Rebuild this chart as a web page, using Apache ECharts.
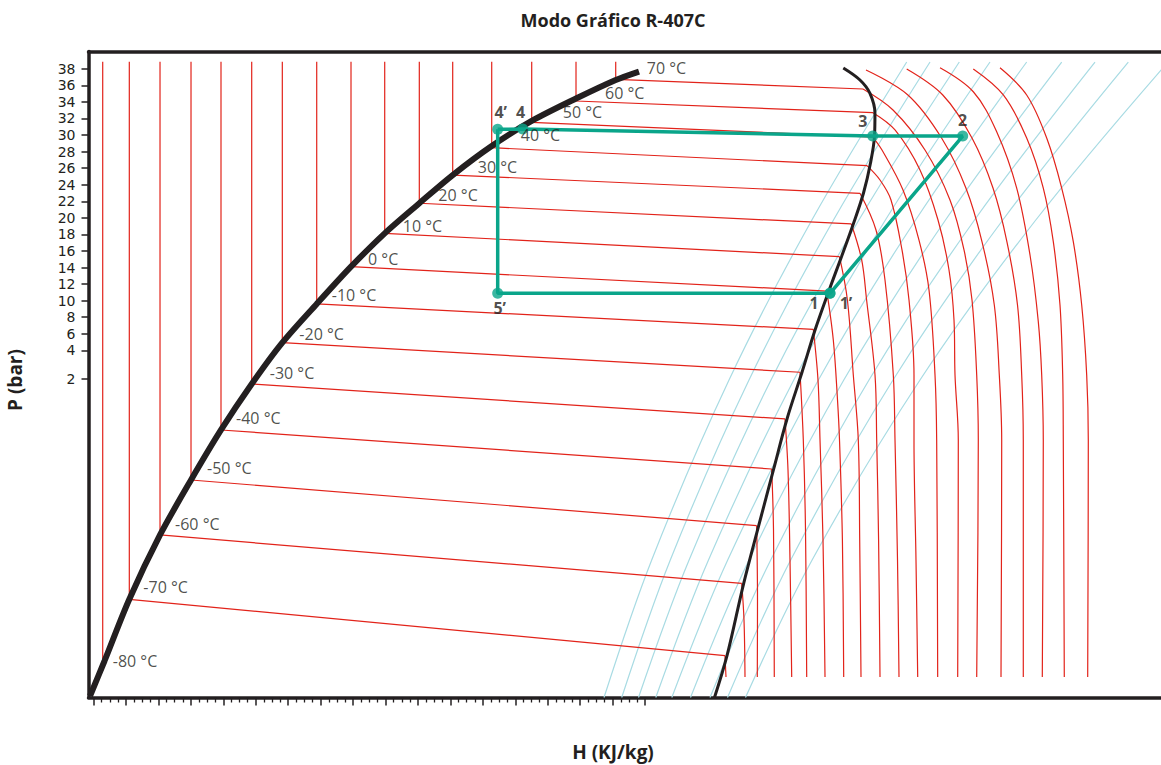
<!DOCTYPE html>
<html><head><meta charset="utf-8">
<script src="https://cdn.jsdelivr.net/npm/echarts@6/dist/echarts.min.js"></script>
<style>html,body{margin:0;padding:0;background:#fff}#c{width:1161px;height:765px}</style>
</head><body><div id="c"></div><script>
// ---------------- DATA ----------------
const titleText = 'Modo Gráfico R-407C';
const xName = 'H (KJ/kg)';
const yName = 'P (bar)';
const yTickLabels = [2,4,6,8,10,12,14,16,18,20,22,24,26,28,30,32,34,36,38];

// isotherms (°C): saturated liquid corner and saturated vapour end of each isotherm
const isoTemps = [-80,-70,-60,-50,-40,-30,-20,-10,0,10,20,30,40,50,60,70];
const liqH = [105.61,122.01,140.94,160.05,178.54,197.47,216.34,237.55,258.69,279.47,300.80,321.39,345.44,370.10,397.41,421.89];
const liqP = [-33.52,-26.07,-18.30,-11.66,-5.62,-0.07,4.92,9.60,14.10,18.13,21.76,25.17,28.47,31.54,34.11,36.73];
const vapH = [null,489.27,499.56,508.80,518.05,526.25,535.50,543.70,552.02,559.86,567.14,572.49,576.81,580.40,580.51,574.35];
const vapP = [null,-32.88,-24.14,-17.18,-10.33,-4.29,1.35,6.54,11.16,15.31,19.26,22.96,26.30,29.76,32.70,35.56];
const liqTopP = 38.86;

// saturation curves
const satLiqH = [97.78,106.72,122.01,140.94,160.05,178.54,197.47,216.34,237.55,258.69,279.47,300.80,321.39,345.44,370.10,397.41,421.89,436.25];
const satLiqP = [-37.75,-33.52,-26.07,-18.30,-11.66,-5.62,-0.07,4.92,9.60,14.10,18.13,21.76,25.17,28.68,31.70,34.41,36.65,37.67];
const satVapH = [562.20,572.47,578.64,581.72,581.44,578.97,574.66,568.37,561.09,553.26,544.94,536.74,527.49,519.29,510.04,500.80,490.50,482.79];
const satVapP = [38.10,36.65,35.04,32.63,29.88,26.62,23.00,19.26,15.31,11.16,6.54,1.35,-4.29,-10.33,-17.18,-24.14,-32.88,-37.93];

// isotherms in the superheated vapour region
const superTemps = [-70,-60,-50,-40,-30,-20,-10,0,10,20,30,40,50,60,70,80,90,100,110,120];
const superH = [
 [489.27,489.88],
 [499.56,500.98,501.60],
 [508.80,509.30,509.18],
 [518.05,519.17,519.66],
 [526.25,528.11,529.34,530.39],
 [535.50,537.54,538.90,539.64],
 [543.70,546.60,547.84,549.69,550.92],
 [552.02,556.04,558.63,559.86,561.65,562.45],
 [559.86,564.73,568.37,571.45,572.31,573.11],
 [567.14,573.54,576.57,581.75,582.79,583.96,584.83],
 [572.49,582.36,587.91,593.03,594.08,595.62,596.54],
 [576.81,584.83,591.61,598.39,602.71,605.79,605.79,607.02,608.08],
 [580.40,586.06,599.01,608.87,615.04,618.74,619.77,620.39],
 [580.51,594.08,609.49,620.59,627.37,630.45,631.07,633.10,632.73],
 [574.35,592.84,612.57,627.98,636.62,641.55,644.45,645.43,644.45],
 [576.20,602.03,622.80,637.78,647.77,655.30,658.38,659.86,659.43],
 [601.29,623.54,641.55,654.49,663.12,669.60,672.19,673.17,673.17],
 [621.82,642.35,656.77,669.10,677.31,682.42,684.52,685.50,684.89],
 [642.35,660.85,675.26,685.50,691.67,695.80,697.46,697.83,698.45],
 [658.81,675.26,687.60,696.85,704.00,709.18,712.26,713.25,712.88]
];
const superP = [
 [-32.88,-35.45],
 [-24.14,-28.57,-35.45],
 [-17.18,-26.15,-35.45],
 [-10.33,-17.70,-35.45],
 [-4.29,-10.45,-21.32,-35.45],
 [1.35,-6.83,-17.70,-35.45],
 [6.54,0.42,-6.83,-18.91,-35.45],
 [11.16,5.25,-1.99,-6.83,-18.91,-35.45],
 [15.31,10.08,1.02,-6.83,-18.91,-35.45],
 [19.26,14.91,10.08,1.02,-6.83,-18.91,-35.45],
 [22.96,18.53,12.49,1.02,-6.83,-21.32,-35.45],
 [26.30,24.57,22.16,16.12,10.08,1.02,-6.83,-21.32,-35.45],
 [29.76,28.19,23.36,17.32,11.29,1.02,-6.83,-35.45],
 [32.70,30.61,25.78,19.74,13.70,7.66,1.02,-6.83,-35.45],
 [35.56,33.02,28.19,22.16,16.12,10.08,1.02,-6.83,-35.45],
 [37.86,34.84,29.64,23.60,17.08,9.47,1.02,-6.83,-35.45],
 [37.98,34.84,29.64,23.60,17.08,9.47,1.02,-6.83,-35.45],
 [38.13,35.23,30.40,23.60,15.51,7.46,1.02,-6.83,-35.45],
 [37.98,34.84,29.64,23.60,17.12,9.47,1.02,-6.83,-35.45],
 [38.13,34.84,29.64,23.60,17.12,9.47,1.02,-6.83,-35.45]
];

// isentropes (light blue)
const isentropeP = [-37.93,-21.32,0.42,19.74,38.82];
const isentropeH = [
 [414.67,444.08,491.74,542.84,601.29],
 [425.58,455.54,504.06,556.16,615.66],
 [435.94,467.13,517.63,571.82,633.72],
 [446.60,479.09,531.68,588.16,652.64],
 [456.47,490.93,546.85,606.78,675.27],
 [468.00,504.06,562.51,625.21,696.85],
 [480.02,517.45,578.05,643.09,717.38],
 [490.81,529.77,592.85,660.54,737.91],
 [501.91,542.97,609.49,680.88,762.39]
];

// refrigeration cycle
const cycleNames = ['4’','4','3','2','1','1’','5’'];
const cycleH = [349.13,364.54,580.33,635.81,554.00,554.00,349.13];
const cycleP = [30.69,30.73,29.88,29.88,10.89,10.89,10.89];
const cyclePath = ['4’','5’','1’','2','3','4','4’'];

// ---------------- STYLE ----------------
const K = '#231f20', RED = '#e2231a', BLUE = '#a8dbe3', GREEN = '#0aa58a';
const FONT = '"Open Sans", "DejaVu Sans", sans-serif';
const TICK_FONT = '"DejaVu Sans", sans-serif';
const isoLabelDx = [10,14,15,16,15,18,17,15,17,18,19,25,29,31,29,31];
const isoLabelDy = [0,-12,-11,-12,-12,-11,-9,-9,-8,-7,-8,-8,-13,-10,-8,-11];
const cycleLabelOffset = {'4’':[3,-17],'4':[-2,-17],'3':[-10,-15],'2':[0,-16],'1':[-16,10],'1’':[16,10],'5’':[2,15]};

// y-axis scale: linear in bar above 4 bar, compressed below
const yScale = p => p >= 4 ? p : 4 - (4 - p) * 1.73;
const yInv = v => v >= 4 ? v : 4 - (4 - v) / 1.73;
const xMajor = [], xMinor = [];
for (let v = 100; v <= 440; v += 20) xMajor.push(v);
for (let v = 100; v < 440; v += 5) if ((v - 100) % 20 !== 0) xMinor.push(v);

const X_MIN = 96.85, X_MAX = 758.07, Y_MIN = -37.93, Y_MAX = 40.09;

const series = [];
isentropeH.forEach(hs => series.push({
  type:'line', data: hs.map((h,j)=>[h, isentropeP[j]]), smooth:0.35, symbol:'none',
  lineStyle:{color:BLUE, width:1.2}, z:1, silent:true
}));
isoTemps.forEach((t,i) => {
  const d = [[liqH[i], liqTopP],[liqH[i], liqP[i]]];
  if (vapH[i] != null) d.push([vapH[i], vapP[i]]);
  series.push({type:'line', data:d, symbol:'none', lineStyle:{color:RED, width:1.2}, z:2, silent:true});
});
superTemps.forEach((t,i) => series.push({
  type:'line', data: superH[i].map((h,j)=>[h, superP[i][j]]), smooth:0.35, symbol:'none',
  lineStyle:{color:RED, width:1.2}, z:2, silent:true
}));
series.push({type:'line', data: satLiqH.map((h,j)=>[h, satLiqP[j]]), smooth:0.3, symbol:'none',
  lineStyle:{color:K, width:6, cap:'butt'}, z:3, silent:true});
series.push({type:'line', data: satVapH.map((h,j)=>[h, satVapP[j]]), smooth:0.35, symbol:'none',
  lineStyle:{color:K, width:3}, z:3, silent:true});
// cycle
const idx = n => cycleNames.indexOf(n);
series.push({type:'line', data: cyclePath.map(n => [cycleH[idx(n)], cycleP[idx(n)]]), symbol:'none',
  lineStyle:{color:GREEN, width:3.5}, z:4, silent:true});
series.push({type:'scatter', symbol:'circle', symbolSize:11, itemStyle:{color:GREEN}, z:5, silent:true,
  data: cycleNames.map((n,i) => ({value:[cycleH[i], cycleP[i]], name:n,
    label:{show:true, position:'inside', offset:cycleLabelOffset[n], formatter:n,
      fontFamily:FONT, fontSize:16, fontWeight:'bold', color:K}}))
});
// isotherm labels
series.push({type:'scatter', symbolSize:0.1, itemStyle:{color:'transparent'}, z:6, silent:true,
  data: isoTemps.map((t,i) => ({value:[liqH[i], liqP[i]],
    label:{show:true, position:'right', distance:0, offset:[isoLabelDx[i], isoLabelDy[i]],
      formatter: t + ' °C', fontFamily:FONT, fontSize:16, color:K}}))
});

const axisBase = {type:'value', min:X_MIN, max:X_MAX, splitLine:{show:false}, axisLabel:{show:false}};
const option = {
  animation:false,
  backgroundColor:'#fff',
  grid:{left:88.5, right:0, top:51.5, bottom:67.5, containLabel:false, outerBoundsMode:'none'},
  xAxis:[
    Object.assign({}, axisBase, {position:'bottom', axisLine:{show:true, onZero:false, lineStyle:{color:K, width:3.5}},
      axisTick:{show:true, customValues:xMajor, length:8, lineStyle:{color:K, width:1.5}}}),
    Object.assign({}, axisBase, {position:'bottom', offset:0, axisLine:{show:false, onZero:false},
      axisTick:{show:true, customValues:xMinor, length:5, lineStyle:{color:K, width:1.3}}}),
    Object.assign({}, axisBase, {position:'top', axisLine:{show:true, onZero:false, lineStyle:{color:K, width:3.5}},
      axisTick:{show:false}})
  ],
  yAxis:{type:'value', min:Y_MIN, max:Y_MAX, position:'left', splitLine:{show:false},
    axisLine:{show:true, onZero:false, lineStyle:{color:K, width:3.5}},
    axisTick:{show:true, customValues:yTickLabels.map(yScale), length:7, lineStyle:{color:K, width:1.5}},
    axisLabel:{show:true, customValues:yTickLabels.map(yScale), formatter: v => String(Math.round(yInv(v))),
      margin:13, fontFamily:TICK_FONT, fontSize:14, lineHeight:14, color:K}
  },
  graphic:[
    {type:'text', x:613, y:20, style:{text:titleText, align:'center', verticalAlign:'middle',
      fontFamily:FONT, fontSize:18, fontWeight:'bold', fill:K}},
    {type:'text', x:613, y:752, style:{text:xName, align:'center', verticalAlign:'middle',
      fontFamily:FONT, fontSize:19, fontWeight:'bold', fill:K}},
    {type:'text', x:15, y:380, rotation:Math.PI/2, style:{text:yName, align:'center', verticalAlign:'middle',
      fontFamily:FONT, fontSize:19, fontWeight:'bold', fill:K}}
  ],
  series
};
const chart = echarts.init(document.getElementById('c'), null, {renderer:'svg', width:1161, height:765});
chart.setOption(option);
</script></body></html>
